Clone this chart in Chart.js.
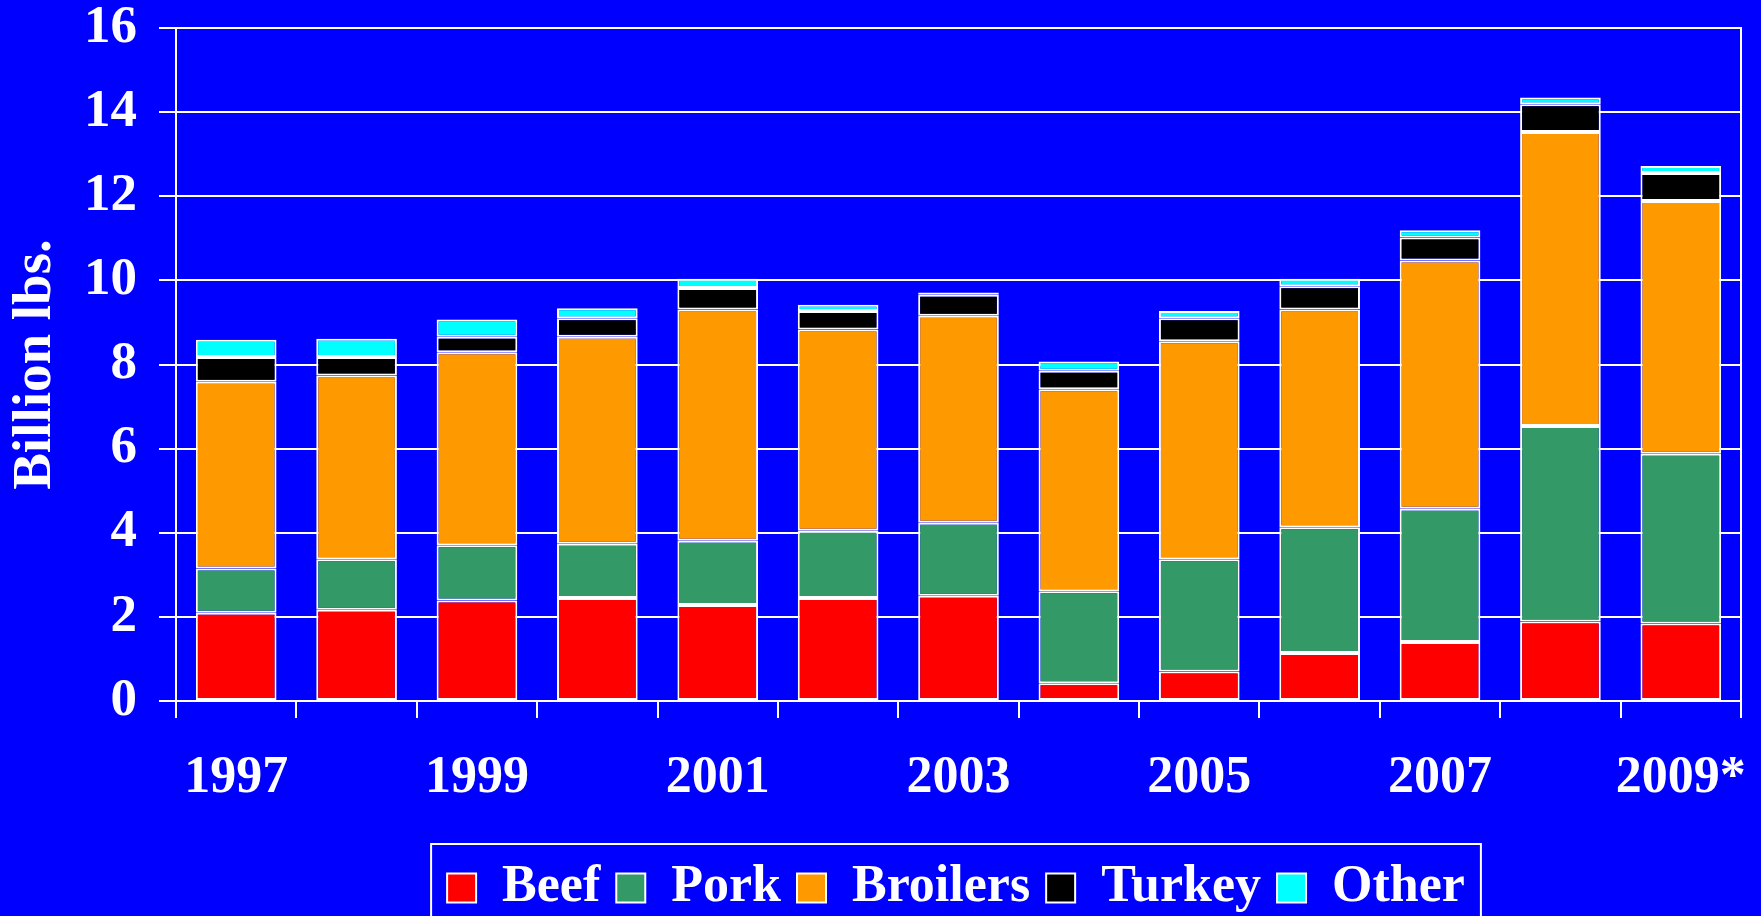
<!DOCTYPE html>
<html>
<head>
<meta charset="utf-8">
<title>Meat exports</title>
<script src="https://cdn.jsdelivr.net/npm/chart.js@4.4.1/dist/chart.umd.min.js"></script>
<style>
    html, body { margin: 0; padding: 0; background: #0000ff; }
    canvas { display: block; }
</style>
</head>
<body>
<canvas id="meatChart" width="1761" height="916"></canvas>
<script>
// categories and values (billion lbs.)
let years = ['1997', '1998', '1999', '2000', '2001', '2002', '2003', '2004', '2005', '2006', '2007', '2008', '2009*'];
let beef     = [2.10, 2.17, 2.39, 2.45, 2.28, 2.45, 2.50, 0.42, 0.70, 1.14, 1.40, 1.89, 1.84];
let pork     = [1.05, 1.20, 1.31, 1.29, 1.53, 1.60, 1.74, 2.19, 2.67, 2.99, 3.17, 4.65, 4.04];
let broilers = [4.44, 4.37, 4.59, 4.92, 5.50, 4.78, 4.92, 4.80, 5.18, 5.18, 5.90, 6.99, 6.01];
let turkey   = [0.59, 0.44, 0.37, 0.44, 0.51, 0.44, 0.50, 0.44, 0.55, 0.55, 0.55, 0.66, 0.66];
let other    = [0.41, 0.43, 0.41, 0.24, 0.22, 0.15, 0.05, 0.22, 0.17, 0.18, 0.17, 0.16, 0.17];
let yTicks   = [0, 2, 4, 6, 8, 10, 12, 14, 16];

let serif = "'Liberation Serif', 'Times New Roman', serif";

// white frame round the legend, moved to sit under the plot
let legendBox = {
    id: 'legendBox',
    afterUpdate(chart) {
        let lg = chart.legend;
        let boxes = lg.legendHitBoxes;
        if (!boxes || !boxes.length) return;
        let first = boxes[0], last = boxes[boxes.length - 1];
        let mid = (first.left + last.left + last.width) / 2;
        let dx = 956 - mid;
        let dy = 888 - (first.top + first.height / 2);
        lg.left += dx;
        lg.right += dx;
        lg.top += dy;
        lg.bottom += dy;
        boxes.forEach(b => { b.left += dx; b.top += dy; });
    },
    afterDraw(chart) {
        let boxes = chart.legend.legendHitBoxes;
        if (!boxes || !boxes.length) return;
        let first = boxes[0], last = boxes[boxes.length - 1];
        let ctx = chart.ctx;
        let cy = first.top + first.height / 2;
        ctx.save();
        ctx.strokeStyle = '#ffffff';
        ctx.lineWidth = 2;
        ctx.strokeRect(first.left - 16, cy - 44, last.left + last.width - first.left + 32, 200);
        ctx.restore();
    }
};

function series(label, data, color) {
    return {
        label: label,
        data: data,
        backgroundColor: color,
        borderColor: '#ffffff',
        borderWidth: 2,
        borderSkipped: false
    };
}

let ctx = document.getElementById('meatChart').getContext('2d');
let chart = new Chart(ctx, {
    type: 'bar',
    data: {
        labels: years,
        datasets: [
            series('Beef', beef, '#ff0000'),
            series('Pork', pork, '#339966'),
            series('Broilers', broilers, '#ff9900'),
            series('Turkey', turkey, '#000000'),
            series('Other', other, '#00ffff')
        ]
    },
    options: {
        responsive: false,
        animation: false,
        layout: { padding: { top: 28, right: 20, left: 0, bottom: 0 } },
        datasets: { bar: { categoryPercentage: 1, barPercentage: 0.67 } },
        plugins: {
            tooltip: { enabled: false },
            legend: {
                position: 'bottom',
                labels: {
                    color: '#ffffff',
                    font: { family: serif, size: 52, weight: 'bold' },
                    boxWidth: 29,
                    boxHeight: 29,
                    padding: 16
                }
            }
        },
        scales: {
            x: {
                stacked: true,
                border: { color: '#ffffff', width: 2 },
                grid: { offset: true, drawOnChartArea: false, color: '#ffffff', lineWidth: 2, tickLength: 17 },
                ticks: {
                    color: '#ffffff',
                    font: { family: serif, size: 52, weight: 'bold' },
                    padding: 29,
                    autoSkip: false,
                    maxRotation: 0,
                    callback: function(val, index) {
                        return index % 2 == 0 ? years[index] : '';
                    }
                },
                afterFit: function(scale) {
                    scale.height = 137;
                    scale.paddingLeft = 0;
                    scale.paddingRight = 0;
                }
            },
            y: {
                stacked: true,
                min: 0,
                max: 16,
                afterBuildTicks: function(scale) {
                    scale.ticks = yTicks.map(v => ({ value: v }));
                },
                border: { color: '#ffffff', width: 2 },
                grid: { color: '#ffffff', lineWidth: 2, tickLength: 17 },
                ticks: {
                    color: '#ffffff',
                    font: { family: serif, size: 53, weight: 'bold' },
                    padding: 22
                },
                title: {
                    display: true,
                    text: 'Billion lbs.',
                    color: '#ffffff',
                    font: { family: serif, size: 55, weight: 'bold' },
                    padding: { top: 3, bottom: 0 }
                },
                afterFit: function(scale) {
                    scale.width = 176;
                    scale.paddingTop = 0;
                    scale.paddingBottom = 0;
                }
            },
            yRight: {
                position: 'right',
                min: 0,
                max: 16,
                border: { color: '#ffffff', width: 2 },
                grid: { display: false, drawTicks: false },
                ticks: { display: false },
                afterFit: function(scale) {
                    scale.width = 0;
                }
            }
        }
    },
    plugins: [legendBox]
});
</script>
</body>
</html>
